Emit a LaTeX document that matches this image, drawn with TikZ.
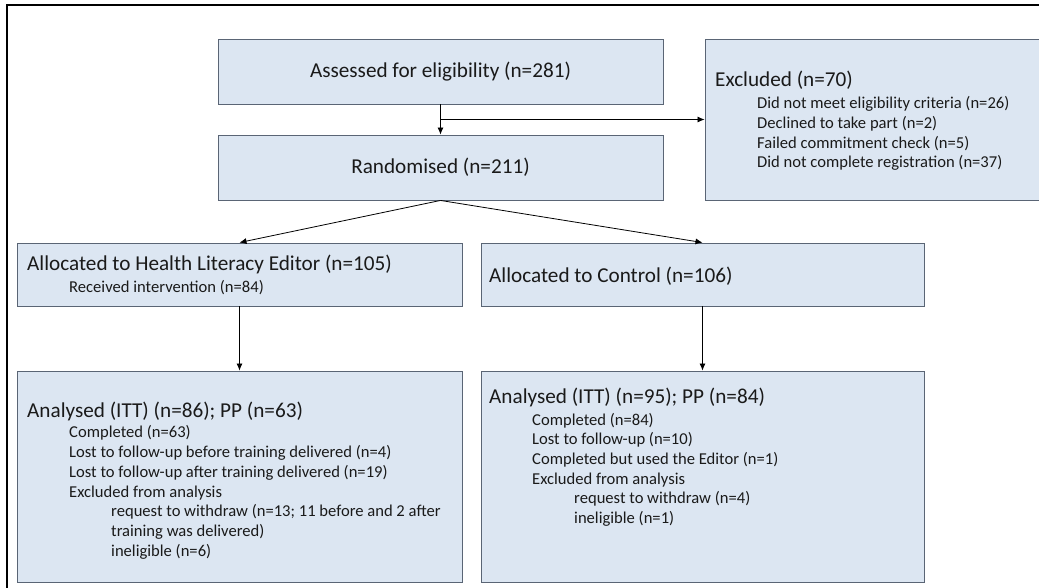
\documentclass[tikz,border=0pt]{standalone}
\usepackage{fontspec}
\setmainfont{Carlito}
\usetikzlibrary{arrows,arrows.meta,positioning}
\definecolor{boxfill}{HTML}{DCE6F2}
\definecolor{boxline}{HTML}{5A6575}
\definecolor{ink}{HTML}{1A1A1A}

\begin{document}
\begin{tikzpicture}[x=1pt,y=-1pt,
        box/.style={draw=boxline, fill=boxfill, line width=0.9pt, inner sep=0pt},
        head/.style={font=\fontsize{21.2}{25}\selectfont, text=ink, inner sep=0pt},
        item/.style={font=\fontsize{16.6}{19.8}\selectfont, text=ink, inner sep=0pt, align=left},
        arr/.style={-{Latex[length=7pt,width=6pt]}, line width=0.8pt}
      ]
        \useasboundingbox (0,0) rectangle (1039,588);
        \clip (0,0) rectangle (1039,588);
        % outer frame
        \draw[line width=2pt] (7,600) -- (7,5) -- (1050,5);

        % boxes
        \node[box, minimum width=445, minimum height=65, head] (assess) at (440.5,71.5) {Assessed for eligibility (n=281)};
        \node[box, minimum width=445, minimum height=65, head] (rand) at (440.5,167.5) {Randomised (n=211)};
        \node[box, minimum width=340, minimum height=161] (excl) at (875,119.5) {};
        \node[box, minimum width=445, minimum height=63] (hle) at (239.5,274.5) {};
        \node[box, minimum width=443, minimum height=63] (ctrl) at (702.5,274.5) {};
        \node[box, minimum width=445, minimum height=211] (anL) at (239.5,476.5) {};
        \node[box, minimum width=443, minimum height=211] (anR) at (702.5,476.5) {};

        % texts (multi-line nodes sit on their last baseline)
        \node[head, anchor=base west] (exclT) at (715,87) {Excluded (n=70)};
        \node[item, anchor=base west] (exclI) at (757,168) {Did not meet eligibility criteria (n=26)\\
          Declined to take part (n=2)\\
          Failed commitment check (n=5)\\
          Did not complete registration (n=37)};
        \node[head, anchor=base west] (hleT) at (27,270) {Allocated to Health Literacy Editor (n=105)};
        \node[item, anchor=base west] (hleI) at (69,292) {Received intervention (n=84)};
        \node[head, anchor=base west] (ctrlT) at (489,282) {Allocated to Control (n=106)};
        \node[head, anchor=base west] (anLT) at (27,417) {Analysed (ITT) (n=86); PP (n=63)};
        \node[item, anchor=base west] (anLI) at (69,497) {Completed (n=63)\\
          Lost to follow-up before training delivered (n=4)\\
          Lost to follow-up after training delivered (n=19)\\
          Excluded from analysis};
        \node[item, anchor=base west] (anLS) at (111,556) {request to withdraw (n=13; 11 before and 2 after\\
          training was delivered)\\
          ineligible (n=6)};
        \node[head, anchor=base west] (anRT) at (489,403) {Analysed (ITT) (n=95); PP (n=84)};
        \node[item, anchor=base west] (anRI) at (532,484.5) {Completed (n=84)\\
          Lost to follow-up (n=10)\\
          Completed but used the Editor (n=1)\\
          Excluded from analysis};
        \node[item, anchor=base west] (anRS) at (574,523.5) {request to withdraw (n=4)\\
          ineligible (n=1)};

        % connectors
        \coordinate (split) at (440.5,119.5);
        \draw[arr] (assess) -- (rand);
        \draw[arr] (split) -- (split -| excl.west);
        \draw[arr] (rand.south) -- (hle.north);
        \draw[arr] (rand.south) -- (ctrl.north);
        \draw[arr] (hle) -- (anL);
        \draw[arr] (ctrl) -- (anR);
      \end{tikzpicture}
\end{document}
